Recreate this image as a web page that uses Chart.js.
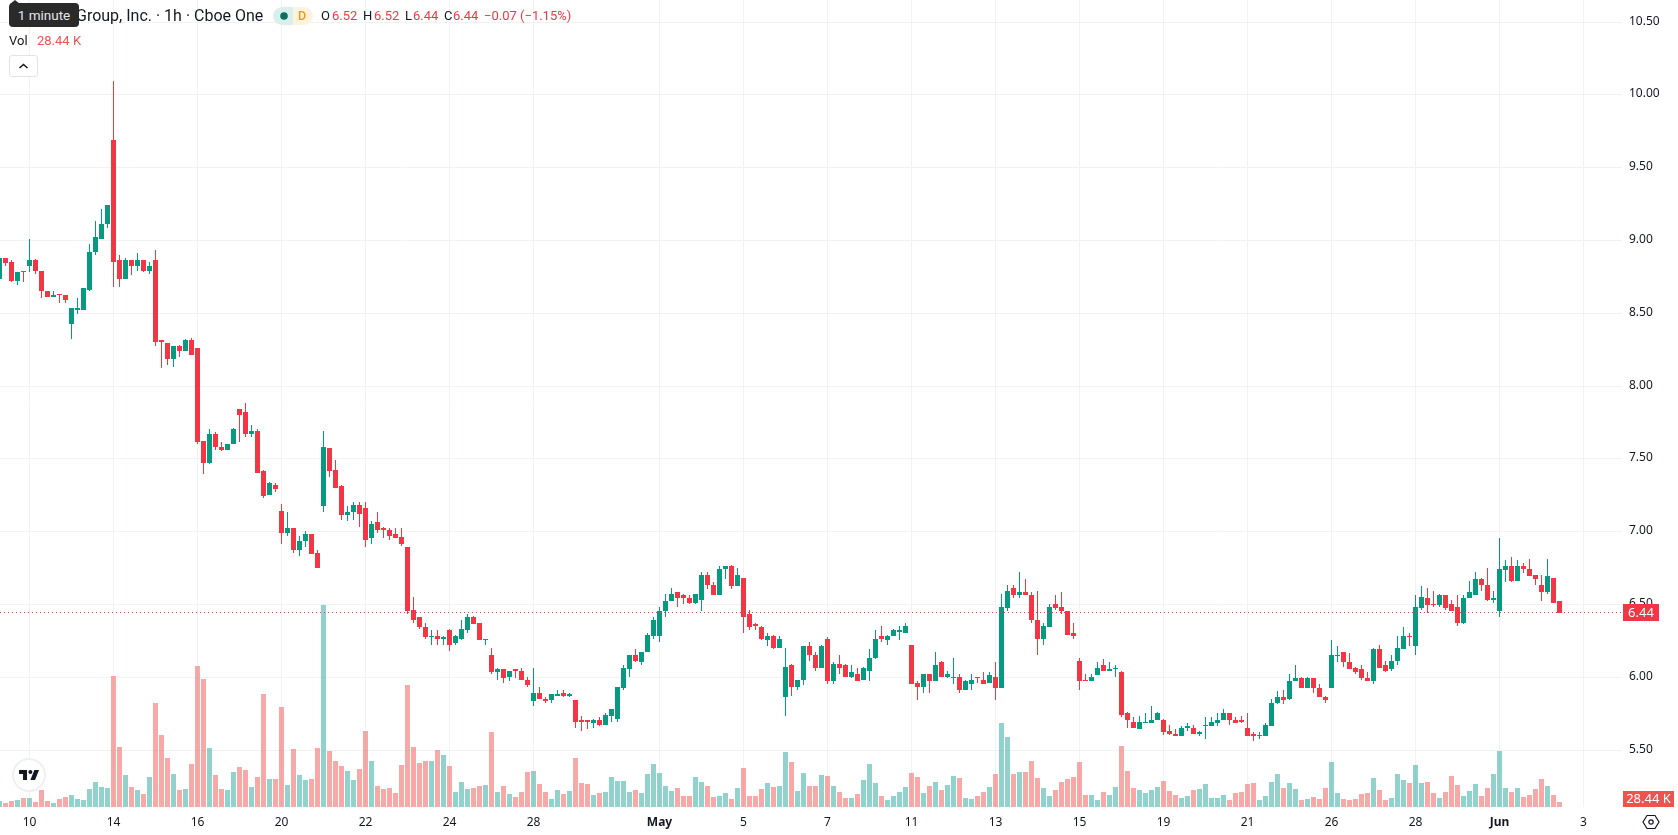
<!DOCTYPE html>
<html>
<head>
<meta charset="utf-8">
<title>Cboe One 1h chart</title>
<script src="https://cdn.jsdelivr.net/npm/chart.js@4"></script>
<style>
  html, body { margin: 0; padding: 0; background: #fff; }
  body { width: 1678px; height: 835px; overflow: hidden; position: relative; font-family: "Noto Sans", sans-serif; color: #131722; }
  canvas { position: absolute; left: 0; top: 0; }
  .t { position: absolute; white-space: nowrap; font-family: Roboto, sans-serif; font-size: 13px; line-height: 18px; }
  .up { color: #f23645; }
  #title { left: 76px; top: 7px; font-size: 16px; }
  #tip { position: absolute; left: 9px; top: 3px; width: 70px; height: 24px; background: #2a2a2a; border-radius: 4px; color: #e6e6e6; font-family: Roboto, sans-serif; font-size: 13.5px; line-height: 24px; text-align: center; }
  #tipArrow { position: absolute; left: 10px; top: 0; width: 0; height: 0; border-left: 5px solid transparent; border-right: 5px solid transparent; border-bottom: 4px solid #2a2a2a; }
  #badge { position: absolute; left: 273px; top: 7px; width: 40px; height: 18px; border-radius: 9px; overflow: hidden; }
  #badge i { position: absolute; top: 0; height: 18px; display: block; }
  #fold { position: absolute; left: 9px; top: 55px; width: 27px; height: 20px; border: 1px solid #e0e3eb; border-radius: 3px; background: #fff; }
  #logo { position: absolute; left: 12px; top: 758px; width: 34px; height: 34px; }
  #gear { position: absolute; left: 1642px; top: 813px; width: 18px; height: 18px; }
</style>
</head>
<body>
<canvas id="chart" width="1678" height="835"></canvas>

<div class="t" id="title">Group, Inc. · 1h · Cboe One</div>
<div id="tipArrow"></div>
<div id="tip">1 minute</div>
<div id="badge">
  <i style="left:0;width:20px;background:#d9efec"></i>
  <i style="left:20px;width:20px;background:#fff3e0"></i>
  <svg width="40" height="18" style="position:absolute;left:0;top:0"><circle cx="11" cy="9" r="3.8" fill="#0b6e60"/></svg>
  <span class="t" style="left:25px;top:0;color:#ff9800;font-size:12.5px;font-weight:500">D</span>
</div>
<span class="t" style="left:321px;top:7px">O</span><span class="t up" style="left:332px;top:7px">6.52</span>
<span class="t" style="left:363px;top:7px">H</span><span class="t up" style="left:374px;top:7px">6.52</span>
<span class="t" style="left:405px;top:7px">L</span><span class="t up" style="left:413px;top:7px">6.44</span>
<span class="t" style="left:444px;top:7px">C</span><span class="t up" style="left:453px;top:7px">6.44</span>
<span class="t up" style="left:484px;top:7px">−0.07 (−1.15%)</span>
<span class="t" style="left:9px;top:32px">Vol</span>
<span class="t" style="left:37px;top:32px;color:#ef5350">28.44 K</span>
<div id="fold"><svg width="27" height="20"><path d="M9.5 12 L13.5 8.5 L17.5 12" fill="none" stroke="#131722" stroke-width="1.5"/></svg></div>
<svg id="logo" viewBox="0 0 34 34">
  <circle cx="17" cy="17" r="16" fill="#fff" stroke="#eef0f3" stroke-width="2"/>
  <g transform="translate(5.7,8) scale(0.667)"><path fill="#131722" d="M14 6H2v6h6v9h6V6zm12 15h-7l6-15h7l-6 15zm-7-9a3 3 0 100-6 3 3 0 000 6z"/></g>
</svg>
<svg id="gear" viewBox="0 0 18 18"><path d="M5 2.5h8L17 9l-4 6.5H5L1 9z" fill="none" stroke="#131722" stroke-width="1.2"/><circle cx="9" cy="9" r="2.2" fill="none" stroke="#131722" stroke-width="1.2"/></svg>

<script>
// Hourly session bars, oldest first.
const open = [
  8.73,8.88,8.85,8.72,8.79,8.82,8.86,8.79,8.65,8.61,
  8.63,8.62,8.42,8.52,8.52,8.66,8.92,9.01,9.11,9.69,
  8.86,8.73,8.86,8.82,8.86,8.79,8.86,8.31,8.29,8.18,
  8.27,8.24,8.31,8.26,7.62,7.47,7.67,7.58,7.56,7.60,
  7.84,7.82,7.67,7.69,7.41,7.25,7.32,7.14,6.99,7.02,
  6.87,6.93,6.98,6.85,7.17,7.57,7.42,7.31,7.11,7.13,
  7.18,7.16,6.95,7.06,7.02,7.01,6.98,6.96,6.89,6.46,
  6.41,6.34,6.27,6.28,6.26,6.32,6.23,6.26,6.32,6.41,
  6.37,6.25,6.15,6.03,6.05,6.00,6.05,6.04,5.98,5.83,
  5.89,5.85,5.84,5.87,5.89,5.87,5.84,5.70,5.70,5.68,
  5.70,5.67,5.73,5.71,5.92,6.05,6.15,6.10,6.17,6.28,
  6.28,6.45,6.52,6.58,6.56,6.54,6.51,6.53,6.70,6.63,
  6.56,6.74,6.76,6.62,6.68,6.43,6.36,6.34,6.25,6.28,
  6.20,5.86,6.08,5.93,5.98,6.21,6.15,6.06,6.26,5.97,
  6.09,6.08,6.00,6.02,5.98,6.04,6.13,6.28,6.25,6.28,
  6.31,6.30,6.22,5.96,5.93,6.02,5.97,6.10,6.00,5.99,
  6.00,5.91,5.95,6.00,5.98,5.96,6.00,5.92,6.47,6.61,
  6.56,6.58,6.56,6.39,6.26,6.34,6.50,6.48,6.45,6.30,
  6.11,5.98,5.97,6.01,6.08,6.04,6.05,6.03,5.75,5.69,
  5.64,5.68,5.68,5.70,5.70,5.63,5.61,5.59,5.65,5.65,
  5.61,5.66,5.66,5.68,5.70,5.75,5.70,5.70,5.65,5.61,
  5.59,5.59,5.66,5.82,5.86,5.85,5.97,5.99,5.92,5.99,
  5.92,5.86,5.92,6.14,6.17,6.10,6.06,6.05,5.99,5.97,
  6.19,6.08,6.05,6.11,6.19,6.28,6.21,6.47,6.54,6.50,
  6.49,6.56,6.50,6.48,6.37,6.54,6.56,6.67,6.63,6.53,
  6.45,6.73,6.76,6.66,6.76,6.74,6.70,6.63,6.58,6.68,
  6.52
];
const high = [
  8.88,8.88,8.86,8.78,8.79,9.01,8.87,8.79,8.65,8.65,
  8.63,8.62,8.53,8.60,8.67,8.97,9.13,9.21,9.24,10.09,
  8.90,8.88,8.86,8.91,8.86,8.85,8.93,8.31,8.29,8.27,
  8.28,8.32,8.33,8.26,7.62,7.70,7.68,7.61,7.60,7.71,
  7.84,7.88,7.73,7.70,7.42,7.34,7.33,7.19,7.13,7.02,
  6.97,7.00,6.98,6.87,7.69,7.57,7.49,7.32,7.17,7.20,
  7.20,7.20,7.07,7.13,7.03,7.02,7.02,7.02,6.89,6.55,
  6.41,6.37,6.32,6.32,6.28,6.33,6.29,6.39,6.43,6.42,
  6.37,6.26,6.20,6.06,6.05,6.04,6.05,6.06,6.00,6.06,
  5.93,5.86,5.88,5.91,5.91,5.89,5.84,5.73,5.70,5.71,
  5.72,5.75,5.78,5.93,6.08,6.15,6.19,6.17,6.30,6.41,
  6.48,6.57,6.61,6.58,6.57,6.56,6.57,6.72,6.72,6.65,
  6.76,6.76,6.77,6.75,6.68,6.46,6.37,6.35,6.30,6.29,
  6.28,6.20,6.09,5.98,6.21,6.24,6.17,6.22,6.27,6.10,
  6.15,6.09,6.08,6.06,6.07,6.19,6.32,6.35,6.29,6.33,
  6.35,6.37,6.22,5.97,6.02,6.02,6.17,6.11,6.04,6.13,
  6.02,5.98,6.02,6.00,6.03,6.03,6.10,6.57,6.63,6.63,
  6.72,6.67,6.58,6.59,6.37,6.50,6.56,6.58,6.45,6.37,
  6.13,6.02,6.02,6.10,6.12,6.10,6.08,6.04,5.76,5.72,
  5.73,5.75,5.80,5.76,5.71,5.67,5.64,5.66,5.68,5.67,
  5.63,5.72,5.72,5.75,5.78,5.75,5.72,5.73,5.75,5.62,
  5.62,5.68,5.85,5.90,5.91,6.02,6.08,6.00,6.00,5.99,
  5.95,5.87,6.25,6.21,6.17,6.16,6.07,6.08,6.03,6.20,
  6.22,6.11,6.15,6.28,6.34,6.30,6.56,6.62,6.61,6.59,
  6.57,6.56,6.53,6.56,6.56,6.66,6.72,6.68,6.75,6.59,
  6.95,6.80,6.82,6.80,6.78,6.81,6.70,6.70,6.81,6.68,
  6.52
];
const low = [
  8.73,8.82,8.71,8.69,8.71,8.78,8.77,8.60,8.61,8.61,
  8.57,8.57,8.32,8.49,8.52,8.65,8.90,9.01,9.08,8.68,
  8.68,8.73,8.76,8.79,8.78,8.77,8.27,8.12,8.14,8.13,
  8.20,8.24,8.21,7.60,7.39,7.46,7.56,7.55,7.56,7.60,
  7.61,7.65,7.65,7.40,7.23,7.25,7.27,6.91,6.97,6.85,
  6.83,6.89,6.84,6.75,7.13,7.37,7.30,7.08,7.07,7.08,
  7.03,6.89,6.91,6.99,6.95,6.94,6.95,6.90,6.43,6.37,
  6.33,6.26,6.22,6.22,6.22,6.18,6.22,6.25,6.30,6.36,
  6.25,6.22,6.02,5.98,5.96,5.97,5.99,5.98,5.93,5.80,
  5.85,5.82,5.82,5.87,5.86,5.86,5.65,5.63,5.64,5.65,
  5.66,5.67,5.69,5.69,5.91,6.00,6.10,6.08,6.17,6.26,
  6.24,6.41,6.52,6.48,6.50,6.50,6.50,6.45,6.60,6.56,
  6.56,6.67,6.60,6.62,6.30,6.32,6.32,6.25,6.21,6.19,
  6.20,5.73,5.87,5.91,5.94,6.11,6.04,6.06,5.95,5.95,
  6.02,6.00,5.99,5.97,5.98,5.97,6.12,6.24,6.22,6.28,
  6.25,6.30,5.95,5.84,5.89,5.89,5.97,6.00,5.99,5.95,
  5.89,5.91,5.91,5.96,5.95,5.96,5.84,5.92,6.45,6.54,
  6.54,6.56,6.37,6.15,6.22,6.34,6.46,6.43,6.29,6.26,
  5.91,5.97,5.97,6.01,6.04,6.04,6.00,5.72,5.65,5.65,
  5.64,5.68,5.68,5.70,5.60,5.60,5.59,5.59,5.63,5.61,
  5.59,5.57,5.66,5.66,5.70,5.67,5.68,5.68,5.59,5.56,
  5.57,5.59,5.66,5.81,5.81,5.84,5.97,5.92,5.92,5.89,
  5.86,5.82,5.92,6.10,6.07,6.05,6.02,5.98,5.97,5.95,
  6.06,6.03,6.04,6.08,6.19,6.21,6.15,6.46,6.44,6.48,
  6.48,6.46,6.45,6.35,6.36,6.54,6.56,6.59,6.52,6.51,
  6.41,6.65,6.65,6.66,6.71,6.69,6.63,6.52,6.57,6.51,
  6.44
];
const close = [
  8.88,8.84,8.72,8.78,8.78,8.86,8.79,8.65,8.61,8.62,
  8.62,8.59,8.53,8.53,8.67,8.92,9.02,9.11,9.24,8.85,
  8.73,8.86,8.82,8.86,8.79,8.82,8.30,8.30,8.18,8.27,
  8.24,8.31,8.21,7.61,7.47,7.67,7.58,7.56,7.60,7.70,
  7.80,7.67,7.69,7.40,7.24,7.33,7.29,6.99,7.02,6.87,
  6.93,6.98,6.84,6.75,7.58,7.41,7.30,7.11,7.13,7.18,
  7.12,6.94,7.05,7.01,7.01,6.97,6.95,6.91,6.45,6.39,
  6.34,6.27,6.28,6.26,6.27,6.22,6.28,6.33,6.41,6.36,
  6.25,6.26,6.03,6.05,5.99,6.04,6.04,5.98,5.94,5.89,
  5.85,5.83,5.88,5.88,5.87,5.88,5.69,5.69,5.69,5.70,
  5.67,5.74,5.78,5.93,6.06,6.15,6.11,6.17,6.29,6.39,
  6.45,6.52,6.57,6.54,6.54,6.51,6.57,6.70,6.63,6.56,
  6.74,6.76,6.62,6.70,6.41,6.34,6.35,6.26,6.28,6.20,
  6.26,6.07,5.93,5.98,6.21,6.15,6.06,6.21,5.97,6.09,
  6.06,6.00,6.03,5.97,6.06,6.13,6.26,6.26,6.28,6.32,
  6.32,6.35,5.95,5.93,6.02,5.97,6.08,6.00,6.02,6.00,
  5.91,5.97,5.98,5.99,5.95,6.01,5.92,6.48,6.59,6.56,
  6.58,6.56,6.39,6.26,6.35,6.48,6.47,6.45,6.29,6.28,
  5.97,5.97,6.00,6.06,6.04,6.05,6.06,5.74,5.70,5.65,
  5.69,5.69,5.70,5.75,5.62,5.61,5.59,5.65,5.66,5.61,
  5.62,5.67,5.69,5.70,5.75,5.70,5.68,5.69,5.59,5.59,
  5.60,5.67,5.82,5.86,5.84,5.97,5.99,5.92,5.99,5.92,
  5.86,5.84,6.15,6.15,6.10,6.05,6.03,5.99,5.97,6.19,
  6.06,6.04,6.11,6.20,6.28,6.27,6.48,6.55,6.49,6.49,
  6.56,6.47,6.45,6.37,6.54,6.58,6.67,6.63,6.53,6.54,
  6.74,6.76,6.66,6.76,6.74,6.69,6.67,6.58,6.69,6.51,
  6.44
];
// Traded volume per bar, in thousands of shares.
const volume = [
  34,23,34,40,51,51,28,97,34,23,
  46,57,68,46,40,102,142,114,108,745,
  341,182,114,97,74,171,592,410,279,188,
  97,102,245,802,728,336,182,102,97,199,
  228,210,114,171,643,159,159,569,125,330,
  182,154,159,336,1149,319,262,233,205,154,
  216,432,262,119,102,108,80,239,694,341,
  250,262,262,324,296,233,85,142,102,108,
  119,125,427,85,119,74,57,85,199,205,
  131,85,46,97,74,91,279,137,131,68,
  80,85,171,148,148,85,97,80,188,245,
  193,119,91,108,63,63,171,142,119,57,
  63,80,46,108,222,63,63,102,137,114,
  119,313,256,91,193,119,119,182,176,119,
  85,51,51,74,154,245,137,63,40,63,
  85,114,193,171,80,119,142,97,125,176,
  165,51,46,63,85,114,188,478,398,188,
  199,199,262,165,108,63,97,142,159,171,
  256,68,68,40,85,68,114,347,205,108,
  97,80,97,114,148,91,68,51,63,97,
  102,131,51,51,68,40,80,85,131,137,
  40,63,142,188,108,137,102,40,46,57,
  46,108,256,80,46,40,46,74,80,165,
  97,40,51,188,154,137,239,137,142,80,
  51,85,176,125,63,91,131,63,108,188,
  319,108,85,108,57,68,102,159,119,68,
  28.44
];
// Bars that carry a date label on the time axis, and the label each one gets.
const tickBars = [5,19,33,47,61,75,89,110,124,138,152,166,180,194,208,222,236,250,264];
const tickLabels = ['10','14','16','20','22','24','28','May','5','7','11','13','15','19','21','26','28','Jun','3'];
const monthLabels = ['May','Jun'];
const volumeTag = '28.44 K';

const COLORS = {
  up: '#089981', down: '#f23645',
  volUp: 'rgba(38,166,154,0.5)', volDown: 'rgba(239,83,80,0.5)',
  volTag: '#ef5350', grid: '#f1f2f4', text: '#131722'
};

const bars = open.map((_, i) => i);
const isDown = i => close[i] < open[i];
const candleColor = bars.map(i => isDown(i) ? COLORS.down : COLORS.up);
const volumeColor = bars.map(i => isDown(i) ? COLORS.volDown : COLORS.volUp);

// Whole-pixel candle edges keep the bodies and wicks crisp.
const snapValueScales = {
  id: 'snapValueScales',
  afterLayout(chart) {
    for (const id of ['y', 'yVolume']) {
      const scale = chart.scales[id];
      const raw = scale.constructor.prototype.getPixelForValue;
      scale.getPixelForValue = v => Math.round(raw.call(scale, v));
    }
  }
};

// Dotted last-price line and the two value tags on the price axis.
const lastValueMarks = {
  id: 'lastValueMarks',
  afterDraw(chart) {
    const { ctx, chartArea: area, scales } = chart;
    const last = close.length - 1;
    const priceY = scales.y.getPixelForValue(close[last]);
    ctx.save();
    ctx.strokeStyle = COLORS.down;
    ctx.lineWidth = 1;
    ctx.setLineDash([1, 3]);
    ctx.beginPath();
    ctx.moveTo(area.left, priceY - 0.5);
    ctx.lineTo(area.right, priceY - 0.5);
    ctx.stroke();
    ctx.setLineDash([]);

    ctx.font = '13px "Noto Sans"';
    ctx.textBaseline = 'middle';
    ctx.textAlign = 'center';
    ctx.fillStyle = COLORS.down;
    ctx.fillRect(area.right + 1, priceY - 9, 36, 17);
    ctx.fillStyle = '#fff';
    ctx.fillText(close[last].toFixed(2), area.right + 19, priceY);

    ctx.fillStyle = COLORS.volTag;
    ctx.fillRect(area.right + 1, area.bottom - 16, 51, 16);
    ctx.fillStyle = '#fff';
    ctx.fillText(volumeTag, area.right + 26.5, area.bottom - 7.5);
    ctx.restore();
  }
};

const flatPadding = scale => {
  scale.paddingTop = scale.paddingBottom = scale.paddingLeft = scale.paddingRight = 0;
};

new Chart(document.getElementById('chart'), {
  type: 'bar',
  data: {
    datasets: [
      {
        label: 'Volume', yAxisID: 'yVolume', order: 3, grouped: false, barThickness: 5,
        data: bars.map(i => ({ x: i, y: volume[i] })),
        backgroundColor: volumeColor
      },
      {
        label: 'Range', yAxisID: 'y', order: 2, grouped: false, barThickness: 1,
        data: bars.map(i => ({ x: i, y: [low[i], high[i]] })),
        backgroundColor: candleColor
      },
      {
        label: 'Body', yAxisID: 'y', order: 1, grouped: false, barThickness: 5, minBarLength: 1,
        data: bars.map(i => ({ x: i, y: [open[i], close[i]] })),
        backgroundColor: candleColor
      }
    ]
  },
  options: {
    responsive: false,
    animation: false,
    events: [],
    layout: { padding: 0 },
    datasets: { bar: { inflateAmount: 0, borderWidth: 0 } },
    plugins: { legend: { display: false }, tooltip: { enabled: false } },
    scales: {
      x: {
        type: 'linear',
        offset: false,
        min: 1 / 12,
        max: 1622.5 / 6,
        border: { display: false },
        grid: { color: COLORS.grid, drawTicks: false, offset: false },
        ticks: {
          autoSkip: false, maxRotation: 0, padding: 8, color: COLORS.text,
          font: ctx => ({
            family: '"Noto Sans"', size: 12,
            weight: ctx.tick && monthLabels.includes(ctx.tick.label) ? '700' : '400'
          }),
          callback: v => tickLabels[tickBars.indexOf(v)]
        },
        afterBuildTicks: scale => { scale.ticks = tickBars.map(value => ({ value })); },
        afterFit: scale => { scale.height = 28; flatPadding(scale); }
      },
      y: {
        position: 'right',
        min: 5.1051,
        max: 10.6492,
        border: { display: false },
        grid: { color: COLORS.grid, drawTicks: false },
        ticks: {
          stepSize: 0.5, includeBounds: false, padding: 7, align: 'center', crossAlign: 'near',
          color: COLORS.text, font: { family: '"Noto Sans"', size: 12 },
          callback: v => v.toFixed(2)
        },
        afterFit: scale => { scale.width = 56; flatPadding(scale); }
      },
      yVolume: {
        display: false,
        position: 'right',
        min: 0,
        max: 4590
      }
    }
  },
  plugins: [snapValueScales, lastValueMarks]
});
</script>
</body>
</html>
